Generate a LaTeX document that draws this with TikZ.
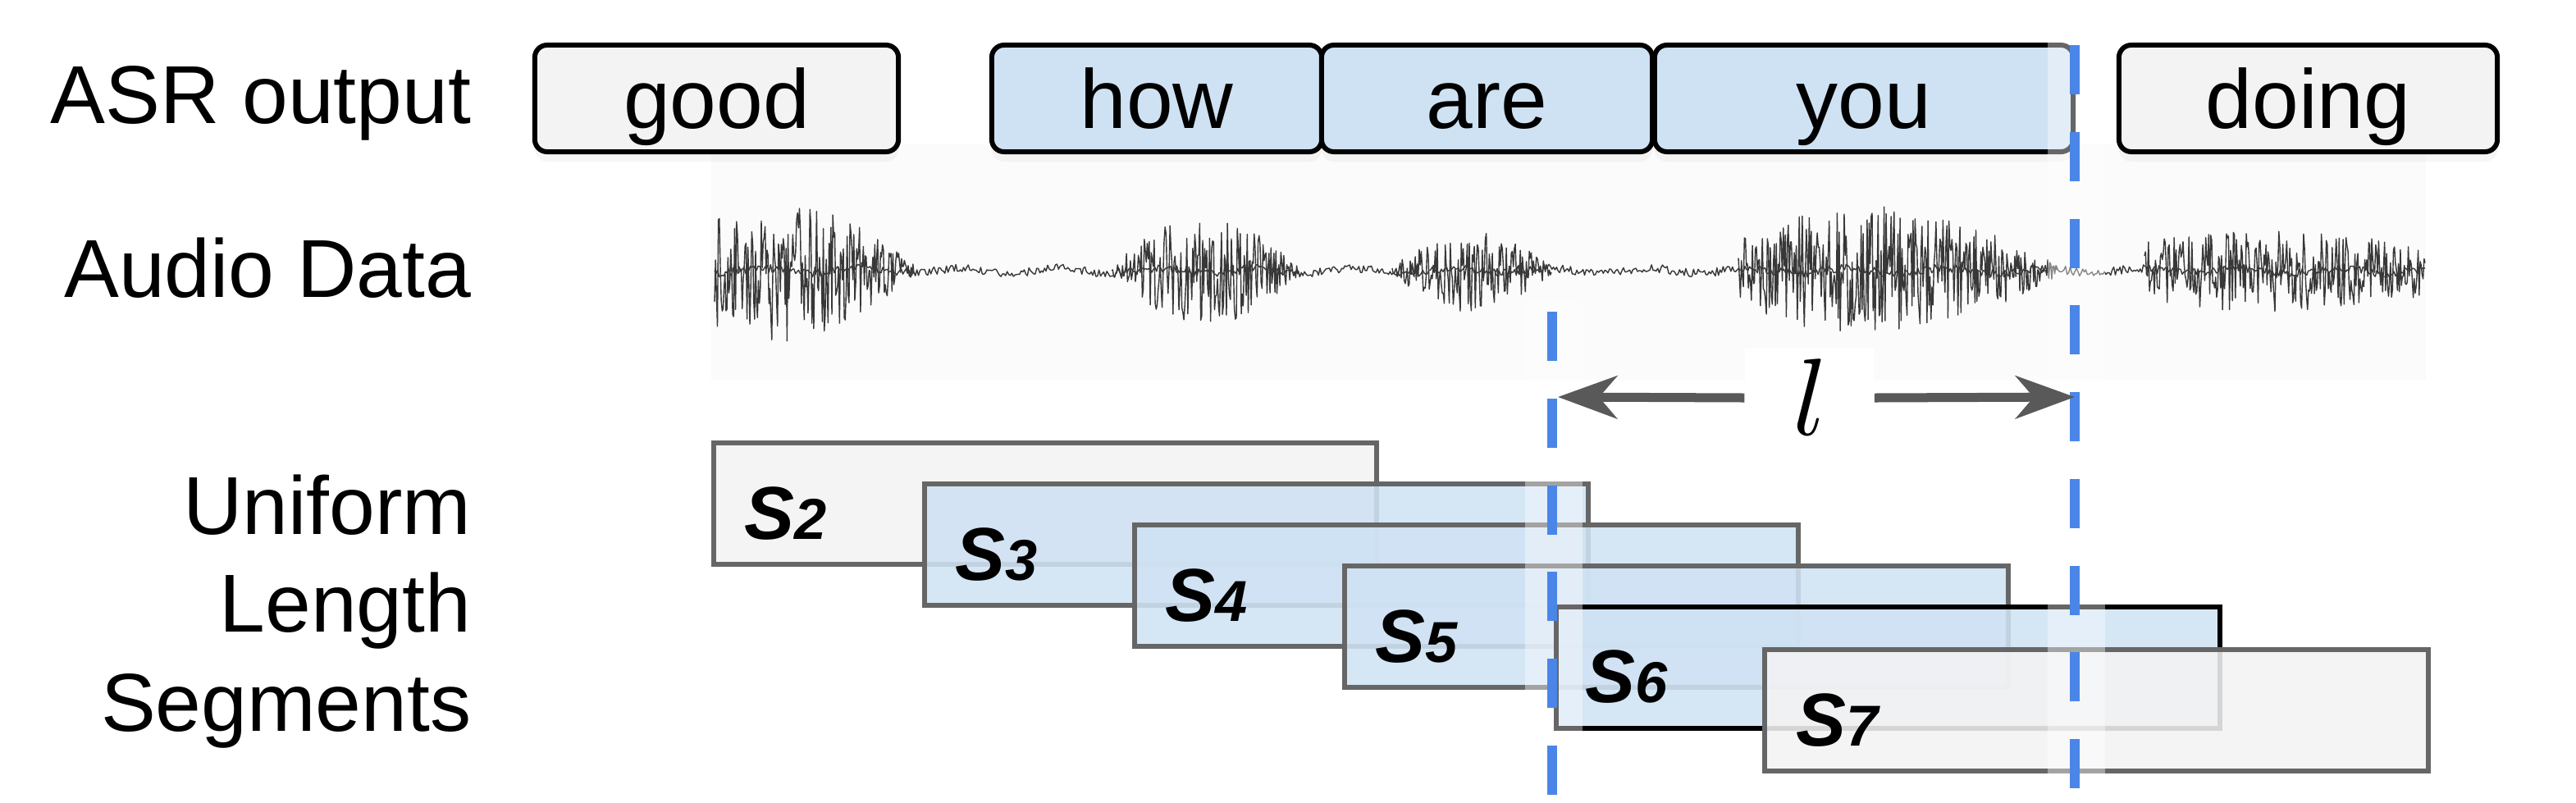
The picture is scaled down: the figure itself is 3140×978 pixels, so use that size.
\documentclass[tikz,border=0pt]{standalone}
\usepackage{fontspec}
\usepackage{unicode-math}
\setmainfont{Liberation Sans}
\usetikzlibrary{arrows.meta,shadows}
\definecolor{wblue}{HTML}{CFE2F3}
\definecolor{wgray}{HTML}{F3F3F3}
\definecolor{segborder}{HTML}{666666}
\definecolor{dashblue}{HTML}{4A86E8}
\definecolor{arrgray}{HTML}{595959}
\definecolor{wavecol}{HTML}{383838}
\begin{document}
\begin{tikzpicture}[x=0.01cm,y=-0.01cm,
  lab/.style={font=\fontsize{28.5}{34}\selectfont, anchor=base east, inner sep=0pt},
  wbox/.style={draw=black, line width=0.06cm, rounded corners=0.15cm, minimum height=1.3cm,
    inner sep=0pt, text height=0.73cm, text depth=0cm, font=\fontsize{29}{34}\selectfont,
    drop shadow={shadow xshift=0cm, shadow yshift=-0.12cm, opacity=0.07}},
  seg/.style={draw=segborder, line width=0.06cm, minimum width=8.08cm, minimum height=1.48cm,
    inner sep=0pt, anchor=north west, fill opacity=0.88},
  slab/.style={anchor=base west, inner sep=0pt, font=\fontsize{26}{30}\selectfont\bfseries\itshape},
  cut/.style={draw=dashblue, line width=0.12cm, dash pattern=on 0.6cm off 0.457cm},
  band/.style={fill=white, fill opacity=0.4, draw=none},
  dim/.style={draw=arrgray, line width=0.11cm, -{Stealth[length=0.72cm, width=0.52cm, inset=0.22cm]}},
  wave/.style={draw=wavecol, line width=0.4pt, line join=round}
]
\useasboundingbox (0,0) rectangle (3140,978);

% faint background of the audio strip
\fill[black!1.5] (867,176) rectangle (2957,464);

% waveform
\pgfmathsetseed{42}
\draw[wave] plot[domain=871:2956, samples=1100, variable=\x] (\x,{330+3*sin(3*\x)+5*rand});
\draw[wave] plot[domain=871:1114, samples=210, variable=\x] (\x,{330+(8+80*abs(sin(50+130*((\x-871)/243))))*rand});
\draw[wave] plot[domain=1355:1583, samples=190, variable=\x] (\x,{330+(6+62*abs(sin(180*((\x-1355)/228))))*rand});
\draw[wave] plot[domain=1697:1891, samples=160, variable=\x] (\x,{330+(5+46*abs(sin(180*((\x-1697)/194))))*rand});
\draw[wave] plot[domain=2119:2507, samples=320, variable=\x] (\x,{330+(8+72*abs(sin(25+155*((\x-2119)/388))))*rand});
\draw[wave] plot[domain=2614:2956, samples=285, variable=\x] (\x,{330+(10+40*abs(sin(40+110*((\x-2614)/342))))*rand});

% ASR word boxes
\node[wbox, fill=wgray, minimum width=4.43cm] (good)  at (873.5,120) {good};
\node[wbox, fill=wblue, minimum width=4.02cm] (how)   at (1410,120) {how};
\node[wbox, fill=wblue, minimum width=4.03cm] (are)   at (1812.5,120) {are};
\node[wbox, fill=wblue, minimum width=5.10cm] (you)   at (2272,120) {you};
\node[wbox, fill=wgray, minimum width=4.61cm] (doing) at (2813.5,120) {doing};

% row labels
\node[lab] (asr)  at (575,150) {ASR output};
\node[lab] (aud)  at (575,362) {Audio Data};
\node[lab] (uni)  at (575,651) {Uniform};
\node[lab] (len)  at (575,770) {Length};
\node[lab] (segm) at (575,891) {Segments};

% uniform length segments
\node[seg, fill=wgray] (s2) at (867,537) {};
\node[slab] (t2) at (907,657) {S{\fontsize{20}{24}\selectfont 2}};
\node[seg, fill=wblue] (s3) at (1124,587) {};
\node[slab] (t3) at (1164,707) {S{\fontsize{20}{24}\selectfont 3}};
\node[seg, fill=wblue] (s4) at (1380,637) {};
\node[slab] (t4) at (1420,757) {S{\fontsize{20}{24}\selectfont 4}};
\node[seg, fill=wblue] (s5) at (1636,687) {};
\node[slab] (t5) at (1676,807) {S{\fontsize{20}{24}\selectfont 5}};
\node[seg, fill=wblue, draw=black] (s6) at (1894,737) {};
\node[slab] (t6) at (1932,856) {S{\fontsize{20}{24}\selectfont 6}};
\node[seg, fill=wgray] (s7) at (2148,789) {};
\node[slab] (t7) at (2189,909) {S{\fontsize{20}{24}\selectfont 7}};

% translucent bands along the cut lines
\fill[band] (1859,365) rectangle (1929,978);
\fill[band] (2496,40) rectangle (2566,978);

% dashed cut lines
\coordinate (ltop) at (1892,380);
\coordinate (lbot) at (1892,978);
\coordinate (rtop) at (2529,55);
\coordinate (rbot) at (2529,978);
\draw[cut] (ltop) -- (lbot);
\draw[cut] (rtop) -- (rbot);

% length marker
\coordinate (la) at (1899,484);
\coordinate (ra) at (2529,484);
\node[fill=white, inner sep=0pt, minimum width=1.57cm, minimum height=1.2cm,
  font=\fontsize{38}{40}\selectfont] (ell) at (2205.5,485) {$l$};
\draw[dim] (ell.west) -- (la);
\draw[dim] (ell.east) -- (ra);
\end{tikzpicture}
\end{document}
